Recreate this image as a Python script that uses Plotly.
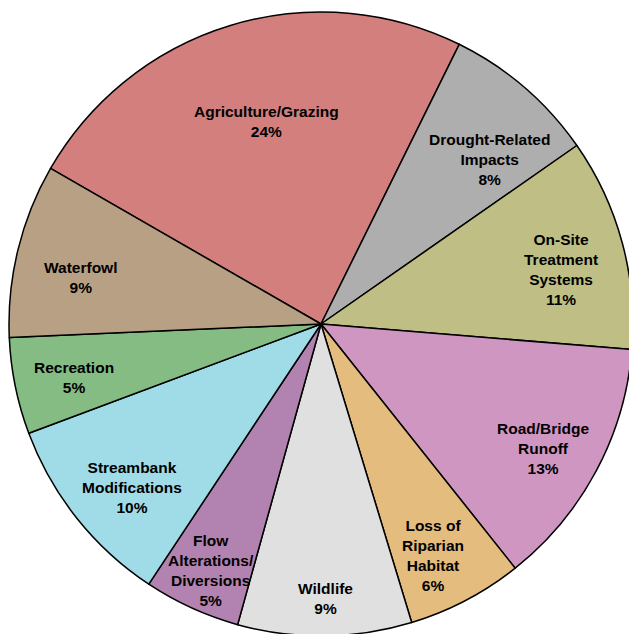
import plotly.graph_objects as go

# ---- data ----
categories = ["Agriculture/Grazing", "Drought-Related Impacts", "On-Site Treatment Systems",
              "Road/Bridge Runoff", "Loss of Riparian Habitat", "Wildlife",
              "Flow Alterations/ Diversions", "Streambank Modifications", "Recreation", "Waterfowl"]
label_lines = ["Agriculture/Grazing", "Drought-Related<br>Impacts", "On-Site<br>Treatment<br>Systems",
               "Road/Bridge<br>Runoff", "Loss of<br>Riparian<br>Habitat", "Wildlife",
               "Flow<br>Alterations/<br>Diversions", "Streambank<br>Modifications", "Recreation", "Waterfowl"]
values = [24, 8, 11, 13, 6, 9, 5, 10, 5, 9]

# ---- style ----
colors = ["#D27F7E", "#AFAEAE", "#BFBF85", "#D096C2", "#E3BC7E",
          "#E0E0E0", "#B283B0", "#A0DBE8", "#84BC84", "#B8A084"]

W, H = 640, 650
L, T, D = 9, 12, 624
# label centre positions in pixels (layout only)
label_px = [(266, 121), (489, 159), (561, 269), (543, 448), (433, 555),
            (325, 598), (211, 570), (132, 487), (74, 377), (80, 277)]

fig = go.Figure(go.Pie(
    labels=categories, values=values, sort=False, direction="clockwise",
    rotation=-60.1, textinfo="none", hoverinfo="label+percent",
    marker=dict(colors=colors, line=dict(color="#000000", width=1.5)),
    domain=dict(x=[0, 1], y=[0, 1]),
))

for lab, v, (px, py) in zip(label_lines, values, label_px):
    fig.add_annotation(
        x=(px - L) / D, y=1 - (py - T) / D, xref="paper", yref="paper",
        text=f"{lab}<br>{v}%", showarrow=False, align="center",
        xanchor="center", yanchor="middle",
        font=dict(family="Liberation Sans, Arial, sans-serif", size=15.5, color="#000000", weight="bold"),
    )

fig.update_layout(
    width=W, height=H, showlegend=False,
    margin=dict(l=L, t=T, r=W - L - D, b=H - T - D, pad=0),
    paper_bgcolor="white", plot_bgcolor="white",
)

fig.write_html("out.html", config={"displayModeBar": False},
               post_script="document.body.style.margin='0';document.body.style.overflow='hidden';")
